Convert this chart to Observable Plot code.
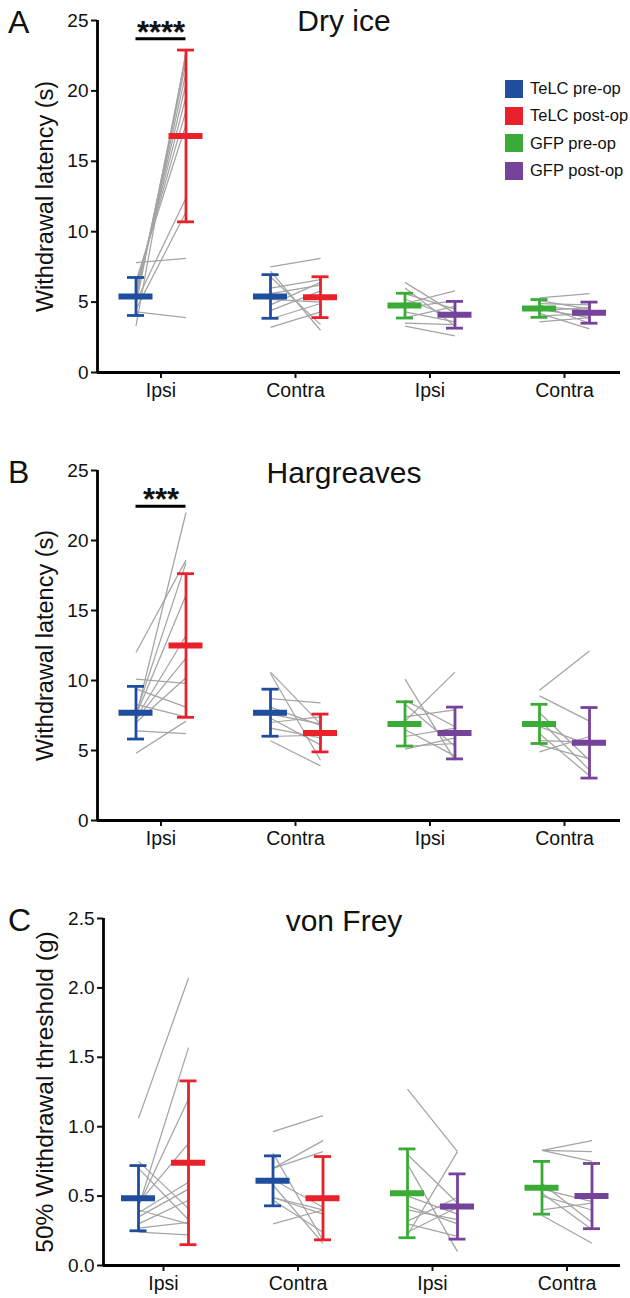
<!DOCTYPE html>
<html><head><meta charset="utf-8">
<script src="https://cdn.jsdelivr.net/npm/d3@7"></script>
<script src="https://cdn.jsdelivr.net/npm/@observablehq/plot@0.6"></script>
<style>
body{margin:0;background:#fff;font-family:"Liberation Sans",Arial,Helvetica,sans-serif;color:#111;}
#root{position:relative;width:630px;height:1298px;overflow:hidden;}
.panel{position:absolute;left:0;}
.letter{position:absolute;left:8px;font-size:32px;line-height:1;}
.title{position:absolute;font-size:30px;line-height:1;transform:translateX(-50%);white-space:nowrap;}
.legend{position:absolute;left:505px;top:75px;font-size:16.5px;}
.legend div{display:flex;align-items:center;height:27.3px;}
.legend span.sw{display:inline-block;width:18px;height:18px;margin-right:7px;}
</style></head>
<body><div id="root"></div>
<script>
// ---------- data ----------
const categories = ["Ipsi", "Contra", "Ipsi", "Contra"];
const groupNames = ["TeLC pre-op", "TeLC post-op", "GFP pre-op", "GFP post-op"];
const groupColors = ["#1f4e9f", "#e8212a", "#3aab36", "#76439a"];

// A: Dry ice (s) — individual animals, per category [Ipsi TeLC, Contra TeLC, Ipsi GFP, Contra GFP]
const dryIcePre = [
  [3.3, 4.3, 4.5, 4.8, 5.0, 5.2, 5.4, 5.6, 5.9, 6.2, 6.5, 7.8],
  [7.5, 7.2, 6.8, 6.0, 5.6, 5.2, 4.8, 4.4, 3.8, 3.2],
  [6.4, 6.0, 5.6, 5.2, 4.9, 4.6, 4.3, 3.9, 3.5, 3.3],
  [5.3, 5.1, 4.9, 4.8, 4.7, 4.5, 4.4, 4.2, 4.0, 3.6]
];
const dryIcePost = [
  [22.8, 3.9, 11.4, 22.5, 12.4, 22.0, 21.3, 20.5, 19.6, 18.6, 17.6, 8.1],
  [8.1, 3.0, 3.4, 6.6, 6.2, 5.0, 6.4, 5.8, 4.9, 4.3],
  [4.2, 3.3, 4.5, 3.9, 5.8, 5.1, 3.6, 4.7, 3.4, 2.6],
  [5.6, 4.5, 4.8, 3.5, 4.4, 3.9, 4.6, 3.1, 4.2, 3.9]
];
const dryIceMeanPre = [5.4, 5.4, 4.75, 4.55];
const dryIceSdPre = [1.35, 1.55, 0.88, 0.63];
const dryIceMeanPost = [16.8, 5.35, 4.1, 4.25];
const dryIceSdPost = [6.1, 1.45, 0.95, 0.75];

// B: Hargreaves (s)
const hargPre = [
  [12.0, 7.4, 7.6, 7.5, 7.3, 7.2, 10.1, 9.4, 8.3, 6.4, 4.8, 7.0],
  [10.6, 10.5, 8.7, 8.1, 7.6, 7.3, 7.0, 6.6, 5.7, 6.0],
  [10.1, 7.1, 8.6, 8.3, 7.4, 6.5, 6.0, 5.1, 5.3],
  [9.3, 8.9, 7.7, 7.2, 6.7, 6.2, 5.7, 4.9, 5.4]
];
const hargPost = [
  [18.6, 22.0, 18.4, 16.1, 13.2, 11.6, 9.8, 8.1, 7.4, 6.2, 7.1, 10.2],
  [6.9, 4.3, 8.4, 6.8, 6.9, 5.4, 7.4, 5.9, 3.9, 6.1],
  [4.3, 10.6, 6.7, 5.3, 7.9, 4.6, 6.6, 5.9, 5.5],
  [12.1, 7.1, 4.3, 3.6, 5.4, 3.2, 5.6, 6.0, 4.4]
];
const hargMeanPre = [7.7, 7.7, 6.9, 6.9];
const hargSdPre = [1.88, 1.68, 1.58, 1.4];
const hargMeanPost = [12.5, 6.25, 6.25, 5.55];
const hargSdPost = [5.13, 1.35, 1.85, 2.52];

// C: von Frey (g)
const vfPre = [
  [1.06, 0.42, 0.75, 0.43, 0.45, 0.38, 0.35, 0.30, 0.40, 0.27, 0.24, 0.70],
  [0.965, 0.70, 0.70, 0.81, 0.49, 0.47, 0.49, 0.30, 0.62, 0.58],
  [1.27, 0.22, 0.80, 0.73, 0.50, 0.40, 0.32, 0.24, 0.43, 0.30],
  [0.83, 0.83, 0.83, 0.59, 0.55, 0.50, 0.52, 0.36, 0.40]
];
const vfPost = [
  [2.07, 1.57, 0.41, 1.20, 0.88, 0.60, 0.55, 0.47, 0.30, 0.31, 0.22, 0.33],
  [1.08, 0.90, 0.82, 0.18, 0.40, 0.24, 0.37, 0.40, 0.42, 0.16],
  [0.82, 0.82, 0.45, 0.10, 0.37, 0.33, 0.49, 0.42, 0.30, 0.21],
  [0.90, 0.82, 0.75, 0.31, 0.46, 0.40, 0.26, 0.16, 0.45]
];
const vfMeanPre = [0.485, 0.61, 0.52, 0.56];
const vfSdPre = [0.235, 0.18, 0.32, 0.19];
const vfMeanPost = [0.74, 0.485, 0.425, 0.50];
const vfSdPost = [0.59, 0.30, 0.235, 0.235];

const panelLetters = ["A", "B", "C"];
const panelTitles = ["Dry ice", "Hargreaves", "von Frey"];
const yLabels = ["Withdrawal latency (s)", "Withdrawal latency (s)", "50% Withdrawal threshold (g)"];
const yTicksLatency = [0, 5, 10, 15, 20, 25];
const yTicksVonFrey = [0, 0.5, 1.0, 1.5, 2.0, 2.5];
const sigLabels = ["****", "***", null];
const sigLevels = [23.7, 22.45, null];

// ---------- layout ----------
const panels = [
  {top: 0, height: 430, marginTop: 20, marginBottom: 58, marginLeft: 97, firstTick: 160.5, yMax: 25, yTicks: yTicksLatency, yFormat: d3.format("d"), labelSize: 23.5,
   pre: dryIcePre, post: dryIcePost, meanPre: dryIceMeanPre, sdPre: dryIceSdPre, meanPost: dryIceMeanPost, sdPost: dryIceSdPost},
  {top: 430, height: 450, marginTop: 40, marginBottom: 60, marginLeft: 97, firstTick: 160.5, yMax: 25, yTicks: yTicksLatency, yFormat: d3.format("d"), labelSize: 23.5,
   pre: hargPre, post: hargPost, meanPre: hargMeanPre, sdPre: hargSdPre, meanPost: hargMeanPost, sdPost: hargSdPost},
  {top: 880, height: 418, marginTop: 38, marginBottom: 33, marginLeft: 103, firstTick: 163, yMax: 2.5, yTicks: yTicksVonFrey, yFormat: d3.format(".1f"), labelSize: 24.5,
   pre: vfPre, post: vfPost, meanPre: vfMeanPre, sdPre: vfSdPre, meanPost: vfMeanPost, sdPost: vfSdPost}
];
const spacing = 134.5;
const root = document.getElementById("root");

panels.forEach((p, k) => {
  const xLeft = (p.marginLeft - p.firstTick) / spacing;
  const xRight = (620 - p.firstTick) / spacing;
  const off = 25 / spacing, cap = 8.5 / spacing, half = 17 / spacing;
  const pairs = [];
  p.pre.forEach((arr, c) => arr.forEach((v, i) => pairs.push({c, pre: v, post: p.post[c][i]})));
  const stats = [];
  for (let c = 0; c < 4; c++) {
    const g = c < 2 ? 0 : 2;
    stats.push({x: c - off, mean: p.meanPre[c], sd: p.sdPre[c], color: groupColors[g]});
    stats.push({x: c + off, mean: p.meanPost[c], sd: p.sdPost[c], color: groupColors[g + 1]});
  }
  const marks = [
    Plot.link(pairs, {x1: d => d.c - off, x2: d => d.c + off, y1: "pre", y2: "post", stroke: "#a4a4a4", strokeWidth: 1.25}),
    Plot.ruleX(stats, {x: "x", y1: d => d.mean - d.sd, y2: d => d.mean + d.sd, stroke: "color", strokeWidth: 2.8}),
    Plot.ruleY(stats, {y: d => d.mean + d.sd, x1: d => d.x - cap, x2: d => d.x + cap, stroke: "color", strokeWidth: 2.8}),
    Plot.ruleY(stats, {y: d => d.mean - d.sd, x1: d => d.x - cap, x2: d => d.x + cap, stroke: "color", strokeWidth: 2.8}),
    Plot.ruleY(stats, {y: "mean", x1: d => d.x - half, x2: d => d.x + half, stroke: "color", strokeWidth: 6}),
    Plot.axisY({ticks: p.yTicks, tickFormat: p.yFormat, tickSize: 6, tickPadding: 3, strokeWidth: 2, label: null, fontSize: 19}),
    Plot.axisX({ticks: [0, 1, 2, 3], tickFormat: i => categories[i], tickSize: 6, tickPadding: 5, strokeWidth: 2, label: null, fontSize: 19.5}),
    Plot.ruleX([xLeft], {y1: 0, y2: p.yMax, stroke: "#000", strokeWidth: 2.8}),
    Plot.ruleY([0], {stroke: "#000", strokeWidth: 2.8}),
    Plot.text([yLabels[k]], {frameAnchor: "left", rotate: -90, dx: -(p.marginLeft - 45), textAnchor: "middle", lineAnchor: "middle", fontSize: p.labelSize})
  ];
  if (sigLabels[k]) {
    const s = [{label: sigLabels[k], level: sigLevels[k]}];
    marks.push(Plot.ruleY(s, {y: "level", x1: -off, x2: off, stroke: "#000", strokeWidth: 3}));
    marks.push(Plot.text(s, {x: 0, y: "level", text: "label", dy: 4, lineAnchor: "bottom", fontSize: 31, fontWeight: "bold"}));
  }
  const svg = Plot.plot({
    width: 630, height: p.height,
    marginTop: p.marginTop, marginBottom: p.marginBottom, marginLeft: p.marginLeft, marginRight: 10,
    x: {domain: [xLeft, xRight], axis: null},
    y: {domain: [0, p.yMax], axis: null},
    color: {type: "identity"},
    style: {fontFamily: '"Liberation Sans", Arial, Helvetica, sans-serif', fontSize: "19px", color: "#111", background: "transparent", overflow: "visible"},
    marks
  });
  svg.classList.add("panel");
  svg.style.top = p.top + "px";
  root.appendChild(svg);

  const L = document.createElement("div");
  L.className = "letter"; L.textContent = panelLetters[k];
  L.style.top = (p.top + (k === 0 ? 6 : p.marginTop - 14)) + "px";
  root.appendChild(L);
  const T = document.createElement("div");
  T.className = "title"; T.textContent = panelTitles[k];
  T.style.left = "344px";
  T.style.top = (p.top + (k === 0 ? 6 : p.marginTop - 12)) + "px";
  root.appendChild(T);
});

const legend = document.createElement("div");
legend.className = "legend";
groupNames.forEach((n, i) => {
  const row = document.createElement("div");
  const sw = document.createElement("span"); sw.className = "sw"; sw.style.background = groupColors[i];
  row.appendChild(sw); row.appendChild(document.createTextNode(n));
  legend.appendChild(row);
});
root.appendChild(legend);
</script>
</body></html>
